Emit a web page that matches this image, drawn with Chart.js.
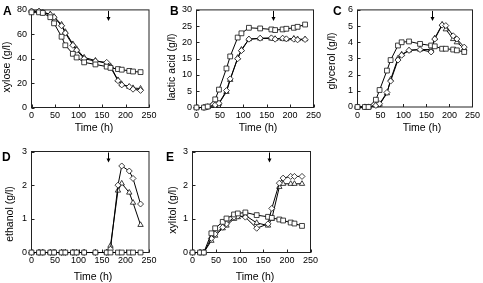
<!DOCTYPE html>
<html lang="en">
<head>
<meta charset="UTF-8" />
<title>Fermentation time courses</title>
<script src="https://cdn.jsdelivr.net/npm/chart.js"></script>
<style>
  html, body { margin: 0; padding: 0; background: #fff; }
  body { width: 483px; height: 283px; position: relative; overflow: hidden; }
  .panel { position: absolute; }
</style>
</head>
<body>
<div class="panel" style="left:0;top:0;width:160px;height:140px"><canvas id="chartA"></canvas></div>
<div class="panel" style="left:160px;top:0;width:165px;height:140px"><canvas id="chartB"></canvas></div>
<div class="panel" style="left:320px;top:0;width:163px;height:140px"><canvas id="chartC"></canvas></div>
<div class="panel" style="left:0;top:140px;width:160px;height:143px"><canvas id="chartD"></canvas></div>
<div class="panel" style="left:160px;top:140px;width:165px;height:143px"><canvas id="chartE"></canvas></div>

<script>
  // sampling times (h), shared by all panels
  const times = [0, 16, 24, 40, 48, 64, 72, 88, 96, 112, 136, 160, 168, 184, 192, 208, 216, 232];
  const arrowTime = 163;

  // A: xylose (g/l)
  const xyloseSquares  = [78, 78, 77.5, 74, 69, 58, 51, 44, 41, 37, 35.3, 33.5, 32.5, 31.5, 31, 30, 29.5, 29];
  const xyloseDiamonds = [79, 79, 78, 76, 74, 67, 61, 51, 47, 40, 38, 37, 33, 22, 18.5, 17, 15, 14];
  const xyloseTriangles = [79, 78.5, 78, 76.5, 74.5, 68, 62, 52, 48, 41, 38.5, 36, 34, 22.5, 19, 17, 16, 15.5];

  // B: lactic acid (g/l)
  const lacticSquares  = [0, 0, 0.3, 2.5, 5.5, 12, 15.7, 21.5, 22.8, 24.5, 24.3, 24, 23.8, 24, 24.2, 24.5, 24.8, 25.5];
  const lacticDiamonds = [0, 0, 0.2, 0.8, 1.3, 5.2, 8.8, 15, 17.5, 21, 21.3, 21.4, 21, 21.3, 21.1, 21, 20.8, 20.9];
  const lacticTriangles = [0, 0, 0.2, 0.6, 1.2, 4.8, 8.5, 15.3, 17.8, 21, 21.2, 21.2, 21.1, 21.1, 21, 21.2, 21, 21];

  // C: glycerol (g/l)
  const glycerolSquares  = [0, 0, 0, 0.45, 1.05, 2.25, 2.9, 3.8, 4.0, 4.05, 3.9, 3.8, 3.75, 3.6, 3.6, 3.55, 3.5, 3.4];
  const glycerolDiamonds = [0, 0, 0, 0.1, 0.2, 0.9, 1.6, 2.9, 3.2, 3.5, 3.55, 3.4, 4.2, 5.06, 5.03, 4.4, 4.2, 3.7];
  const glycerolTriangles = [0, 0, 0, 0.1, 0.15, 0.85, 1.7, 3.0, 3.25, 3.5, 3.55, 3.55, 4.25, 5.1, 4.8, 4.2, 4.0, 3.6];

  // D: ethanol (g/l)
  const ethanolSquares  = [0, 0, 0, 0, 0, 0, 0, 0, 0, 0, 0, 0, 0, 0, 0, 0, 0, 0];
  const ethanolDiamonds = [0, 0, 0, 0, 0, 0, 0, 0, 0, 0, 0, 0, 0.1, 2.0, 2.57, 2.42, 2.2, 1.44];
  const ethanolTriangles = [0, 0, 0, 0, 0, 0, 0, 0, 0, 0, 0, 0, 0.2, 1.84, 2.05, 1.78, 1.48, 0.82];

  // E: xylitol (g/l)
  const xylitolSquares  = [0, 0, 0, 0.57, 0.72, 0.91, 1.01, 1.13, 1.16, 1.19, 1.11, 1.06, 1.03, 0.98, 0.95, 0.89, 0.86, 0.79];
  const xylitolDiamonds = [0, 0, 0, 0.42, 0.55, 0.75, 0.85, 1.05, 1.08, 1.05, 0.72, 0.85, 1.31, 2.06, 2.21, 2.26, 2.26, 2.26];
  const xylitolTriangles = [0, 0, 0, 0.35, 0.5, 0.72, 0.8, 1.0, 1.05, 1.1, 0.88, 0.8, 1.0, 1.95, 2.04, 2.04, 2.04, 2.04];

  Chart.defaults.font.family = '"Liberation Sans", Arial, sans-serif';
  Chart.defaults.color = '#000';

  // frame, inward ticks, arrow and labels
  const panelDecor = {
    id: 'panelDecor',
    beforeDatasetsDraw(chart) {
      const { ctx, chartArea: a, scales: { x, y } } = chart;
      ctx.save();
      ctx.strokeStyle = '#222';
      ctx.lineWidth = 1;
      ctx.strokeRect(a.left, a.top, a.right - a.left, a.bottom - a.top);
      ctx.beginPath();
      x.ticks.forEach(t => {
        const px = Math.round(x.getPixelForValue(t.value)) + 0.5;
        ctx.moveTo(px, a.bottom); ctx.lineTo(px, a.bottom - 3);
      });
      y.ticks.forEach(t => {
        const py = Math.round(y.getPixelForValue(t.value)) + 0.5;
        ctx.moveTo(a.left, py); ctx.lineTo(a.left + 3, py);
      });
      ctx.stroke();
      ctx.restore();
    },
    afterDraw(chart, args, o) {
      const { ctx, chartArea: a, scales: { x } } = chart;
      ctx.save();
      ctx.fillStyle = '#000';
      ctx.strokeStyle = '#000';
      // arrow
      const ax = Math.round(x.getPixelForValue(arrowTime)) + 0.5;
      ctx.lineWidth = 1;
      ctx.beginPath();
      ctx.moveTo(ax, a.top + 1); ctx.lineTo(ax, a.top + 8);
      ctx.stroke();
      ctx.beginPath();
      ctx.moveTo(ax - 2, a.top + 7); ctx.lineTo(ax + 2, a.top + 7); ctx.lineTo(ax, a.top + 11);
      ctx.closePath();
      ctx.fill();
      // panel letter
      ctx.font = 'bold 12px "Liberation Sans", Arial, sans-serif';
      ctx.textAlign = 'left';
      ctx.textBaseline = 'middle';
      ctx.fillText(o.letter, o.letterX, o.letterY);
      // axis titles
      ctx.font = '10.5px "Liberation Sans", Arial, sans-serif';
      ctx.textAlign = 'center';
      ctx.fillText('Time (h)', o.xTitleX, o.xTitleY);
      ctx.translate(o.yTitleX, o.yTitleY);
      ctx.rotate(-Math.PI / 2);
      ctx.fillText(o.yTitle, 0, 0);
      ctx.restore();
    }
  };

  function series(values, style, radius) {
    return {
      data: times.map((t, i) => ({ x: t, y: values[i] })),
      borderColor: '#000',
      borderWidth: 1,
      pointStyle: style,
      pointRadius: radius,
      pointBackgroundColor: '#fff',
      pointBorderColor: '#111',
      pointBorderWidth: 0.8,
      tension: 0,
      clip: false
    };
  }

  function makePanel(id, p) {
    new Chart(document.getElementById(id), {
      type: 'line',
      data: {
        datasets: [
          series(p.squares, 'rect', 3.4),
          series(p.diamonds, 'rectRot', 3.0),
          series(p.triangles, 'triangle', 3.1)
        ]
      },
      options: {
        responsive: true,
        maintainAspectRatio: false,
        animation: false,
        events: [],
        layout: { padding: p.pad },
        plugins: { legend: { display: false }, tooltip: { enabled: false }, panelDecor: p.text },
        scales: {
          x: {
            type: 'linear', min: 0, max: 250,
            afterFit: s => { s.height = p.xH; },
            grid: { display: false, drawTicks: false }, border: { display: false },
            ticks: { stepSize: 50, font: { size: 9 }, padding: 3, maxRotation: 0, autoSkip: false }
          },
          y: {
            type: 'linear', min: 0, max: p.yMax,
            afterFit: s => { s.width = p.yW; },
            grid: { display: false, drawTicks: false }, border: { display: false },
            ticks: { stepSize: p.yStep, font: { size: 9 }, padding: 4.5 }
          }
        }
      },
      plugins: [panelDecor]
    });
  }

  makePanel('chartA', {
    squares: xyloseSquares, diamonds: xyloseDiamonds, triangles: xyloseTriangles,
    yMax: 80, yStep: 20, yW: 31.5, xH: 32.5, pad: { left: 0, top: 6.5, right: 11, bottom: 0 },
    text: { letter: 'A', letterX: 3, letterY: 12, yTitle: 'xylose (g/l)', yTitleX: 7, yTitleY: 67, xTitleX: 94, xTitleY: 128 }
  });
  makePanel('chartB', {
    squares: lacticSquares, diamonds: lacticDiamonds, triangles: lacticTriangles,
    yMax: 30, yStep: 5, yW: 36.5, xH: 32.5, pad: { left: 0, top: 6.5, right: 11.5, bottom: 0 },
    text: { letter: 'B', letterX: 10, letterY: 12, yTitle: 'lactic acid (g/l)', yTitleX: 12.5, yTitleY: 67, xTitleX: 98, xTitleY: 128.5 }
  });
  makePanel('chartC', {
    squares: glycerolSquares, diamonds: glycerolDiamonds, triangles: glycerolTriangles,
    yMax: 6, yStep: 1, yW: 37.5, xH: 33, pad: { left: 0, top: 5.5, right: 7.5, bottom: 0 },
    text: { letter: 'C', letterX: 13, letterY: 12, yTitle: 'glycerol (g/l)', yTitleX: 12.5, yTitleY: 61, xTitleX: 102, xTitleY: 128.5 }
  });
  makePanel('chartD', {
    squares: ethanolSquares, diamonds: ethanolDiamonds, triangles: ethanolTriangles,
    yMax: 3, yStep: 1, yW: 31.5, xH: 30.5, pad: { left: 0, top: 11.5, right: 11, bottom: 0 },
    text: { letter: 'D', letterX: 2, letterY: 17.5, yTitle: 'ethanol (g/l)', yTitleX: 10, yTitleY: 74, xTitleX: 93, xTitleY: 137 }
  });
  makePanel('chartE', {
    squares: xylitolSquares, diamonds: xylitolDiamonds, triangles: xylitolTriangles,
    yMax: 3, yStep: 1, yW: 32.5, xH: 30.5, pad: { left: 0, top: 11.5, right: 14.5, bottom: 0 },
    text: { letter: 'E', letterX: 6, letterY: 17.5, yTitle: 'xylitol (g/l)', yTitleX: 13.3, yTitleY: 70, xTitleX: 95, xTitleY: 137 }
  });
</script>
</body>
</html>
